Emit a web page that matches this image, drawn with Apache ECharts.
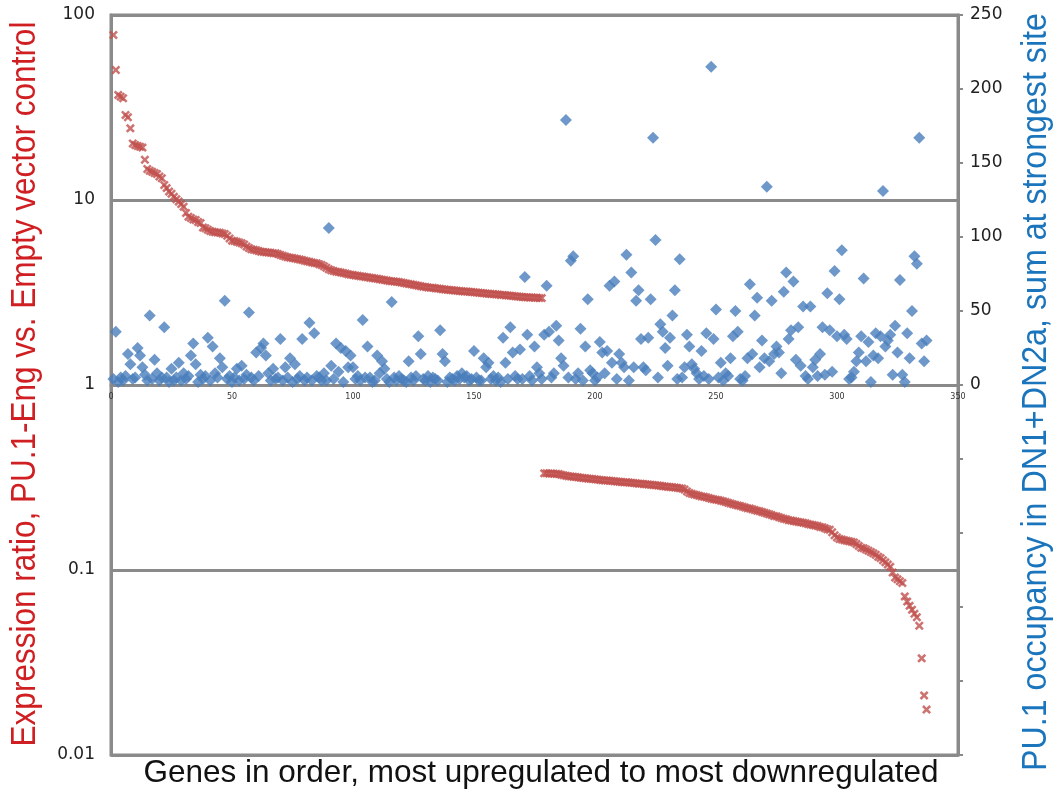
<!DOCTYPE html>
<html>
<head>
<meta charset="utf-8">
<script src="https://cdn.jsdelivr.net/npm/echarts/dist/echarts.min.js"></script>
<style>
html,body{margin:0;padding:0;background:#fff;}
#chart{width:1055px;height:793px;}
</style>
</head>
<body>
<div id="chart"></div>
<script>
// Expression ratio (PU.1-Eng vs. Empty vector), genes 1..178 (upregulated)
const upRatio = [78, 50.4, 37, 36.2, 35.5, 28.8, 28, 24.4, 20.2, 19.8,
 19.6, 19.4, 19.2, 16.5, 14.7, 14.4, 14.2, 14.0, 13.8, 13.4,
 13.1, 12.05, 11.6, 11.1, 10.8, 10.4, 10.1, 9.8, 9.5, 9.2,
 8.5, 8.13, 8.0, 7.85, 7.8, 7.6, 7.5, 7.1, 7.03, 6.9,
 6.8, 6.74, 6.7, 6.68, 6.65, 6.6, 6.55, 6.4, 6.2, 6.03,
 6.0, 5.95, 5.9, 5.83, 5.75, 5.6, 5.5, 5.41, 5.38, 5.35,
 5.3, 5.25, 5.24, 5.22, 5.2, 5.18, 5.16, 5.15, 5.1, 5.05,
 5.0, 4.95, 4.9, 4.88, 4.86, 4.83, 4.8, 4.77, 4.74, 4.7,
 4.66, 4.63, 4.6, 4.57, 4.55, 4.5, 4.45, 4.38, 4.3, 4.22,
 4.17, 4.13, 4.1, 4.08, 4.05, 4.03, 4.0, 3.97, 3.95, 3.93,
 3.91, 3.89, 3.87, 3.86, 3.84, 3.82, 3.8, 3.79, 3.77, 3.75,
 3.73, 3.71, 3.69, 3.67, 3.65, 3.64, 3.63, 3.62, 3.6, 3.58,
 3.56, 3.54, 3.52, 3.5, 3.48, 3.46, 3.44, 3.42, 3.4, 3.39,
 3.37, 3.36, 3.35, 3.33, 3.32, 3.31, 3.29, 3.28, 3.27, 3.26,
 3.25, 3.24, 3.23, 3.22, 3.21, 3.2, 3.2, 3.19, 3.18, 3.17,
 3.16, 3.15, 3.14, 3.13, 3.12, 3.11, 3.1, 3.1, 3.09, 3.08,
 3.07, 3.07, 3.06, 3.05, 3.04, 3.03, 3.02, 3.01, 3.0, 2.99,
 2.98, 2.98, 2.97, 2.97, 2.96, 2.96, 2.95, 2.95];

// Expression ratio, genes 179..337 (downregulated)
const downRatio = [.333,.333,.332,.332,.331,.331,.330,.327,.325,.323,
 .321,.320,.319,.318,.317,.315,.314,.313,.312,.311,
 .310,.309,.308,.307,.306,.305,.305,.304,.303,.302,
 .301,.300,.299,.298,.298,.297,.296,.295,.294,.293,
 .293,.292,.291,.290,.289,.288,.287,.286,.285,.284,
 .283,.282,.281,.280,.279,.278,.277,.276,.272,.266,
 .261,.258,.256,.254,.252,.250,.249,.247,.245,.243,
 .241,.240,.239,.237,.235,.233,.231,.229,.227,.225,
 .223,.222,.220,.218,.216,.215,.213,.211,.209,.208,
 .206,.204,.202,.200,.198,.196,.195,.193,.191,.189,
 .188,.186,.185,.184,.183,.182,.181,.180,.179,.177,
 .176,.175,.174,.173,.171,.170,.168,.166,.165,.160,
 .154,.150,.147,.146,.145,.144,.143,.142,.141,.138,
 .135,.132,.131,.129,.127,.125,.123,.121,.118,.116,
 .113,.110,.107,.104,.097,.091,.089,.087,.085,.072,
 .0675,.064,.061,.058,.0555,.050,.0333,.021,.0176];

// PU.1 occupancy (DN1+DN2a, sum at strongest site), genes 1..337
const occupancy = [4,36,2,5,3,6,21,14,4,5,
 25,20,12,7,3,47,4,17,8,3,
 5,39,5,2,11,3,5,15,3,8,
 4,6,20,28,14,2,7,4,6,32,
 3,26,8,5,18,12,57,4,6,2,
 5,11,3,13,4,7,49,5,3,22,
 6,25,28,20,8,3,11,4,5,31,
 3,12,5,18,2,14,4,6,31,3,
 5,42,3,35,6,5,3,8,3,106,
 13,4,28,9,25,2,23,12,20,12,
 4,6,3,44,5,26,5,2,3,20,
 8,16,11,4,2,56,5,3,6,4,
 3,2,16,5,3,6,33,21,4,3,
 6,2,5,4,3,37,21,16,2,5,
 4,3,6,4,8,5,6,3,4,23,
 5,3,3,18,12,15,4,6,3,5,
 2,32,15,4,39,22,6,4,24,4,
 73,34,6,3,26,12,8,4,34,67,
 36,5,8,40,30,18,13,179,5,84,
 87,4,8,38,3,26,58,10,8,3,
 5,29,22,8,23,67,15,70,4,21,
 15,12,88,3,76,12,57,64,31,12,
 10,32,58,167,98,5,41,36,25,13,
 32,47,64,4,85,5,12,34,26,14,
 11,8,4,23,6,35,4,215,31,51,
 5,15,3,8,6,18,33,50,36,4,
 3,6,18,68,21,47,59,12,30,18,
 134,16,57,21,26,22,8,63,76,31,
 37,70,17,39,13,53,6,4,53,12,
 17,6,21,39,7,62,37,9,77,33,
 58,91,34,31,4,5,9,16,22,33,
 72,16,29,2,20,35,18,33,131,26,
 30,34,7,40,22,71,7,2,35,18,
 50,87,82,167,28,16,30];

const xTicks = [0, 50, 100, 150, 200, 250, 300, 350];
const leftTickLabels = {'0.01':'0.01','0.1':'0.1','1':'1','10':'10','100':'100'};
const rightTickLabels = [0, 50, 100, 150, 200, 250];

const leftTitle = 'Expression ratio, PU.1-Eng vs. Empty vector control';
const rightTitle = 'PU.1 occupancy in DN1+DN2a, sum at strongest site';
const xTitle = 'Genes in order, most upregulated to most downregulated';

const ratio = upRatio.concat(downRatio);
const ratioData = ratio.map((v, i) => [i + 1, v]);
const occData = occupancy.map((v, i) => [i + 1, v]);

const gray = '#8a8a8a';
const xPath = 'path://M0,2 L2,0 L5,3 L8,0 L10,2 L7,5 L10,8 L8,10 L5,7 L2,10 L0,8 L3,5 Z';
const sansFont = '"Liberation Sans",Arial,sans-serif';

const chart = echarts.init(document.getElementById('chart'), null, {renderer: 'canvas'});
chart.setOption({
  animation: false,
  backgroundColor: '#ffffff',
  grid: {left: 111, right: 97, top: 15, bottom: 38, containLabel: false, outerBoundsMode: 'none',
    show: true, borderColor: gray, borderWidth: 3, backgroundColor: 'transparent'},
  xAxis: {
    type: 'value', min: 0, max: 350, interval: 50, position: 'bottom', offset: -370,
    axisLine: {show: true, lineStyle: {color: gray, width: 3}},
    axisTick: {show: false},
    splitLine: {show: false},
    axisLabel: {show: true, fontSize: 8, color: '#333', fontFamily: 'DejaVu Sans', margin: 8,
      formatter: v => xTicks.includes(v) ? String(v) : ''}
  },
  yAxis: [{
    type: 'log', logBase: 10, min: 0.01, max: 100, position: 'left',
    axisLine: {show: true, lineStyle: {color: gray, width: 3}},
    axisTick: {show: false},
    splitLine: {show: true, lineStyle: {color: gray, width: 3}},
    axisLabel: {fontSize: 17, color: '#222', fontFamily: 'DejaVu Sans', margin: 16,
      formatter: v => { const k = String(+v.toPrecision(3)); return leftTickLabels[k] || ''; }}
  }, {
    type: 'value', min: -250, max: 250, interval: 50, position: 'right',
    axisLine: {show: true, lineStyle: {color: gray, width: 3}},
    axisTick: {show: true, length: 5, lineStyle: {color: gray, width: 2}},
    splitLine: {show: false},
    axisLabel: {fontSize: 17, color: '#222', fontFamily: 'DejaVu Sans', margin: 12,
      formatter: v => rightTickLabels.includes(v) ? String(v) : ''}
  }],
  graphic: [{
    type: 'text', x: 541, y: 773,
    style: {text: xTitle, fill: '#111', fontSize: 31.5, fontFamily: sansFont, textAlign: 'center', textVerticalAlign: 'middle'}
  }, {
    type: 'text', x: 25, y: 384, rotation: Math.PI / 2, scaleX: 0.9,
    style: {text: leftTitle, fill: '#cf1f22', fontSize: 35, fontFamily: sansFont, textAlign: 'center', textVerticalAlign: 'middle'}
  }, {
    type: 'text', x: 1036, y: 392, rotation: Math.PI / 2, scaleX: 0.92,
    style: {text: rightTitle, fill: '#1b75bc', fontSize: 35, fontFamily: sansFont, textAlign: 'center', textVerticalAlign: 'middle'}
  }],
  series: [{
    name: 'occupancy', type: 'scatter', yAxisIndex: 1, data: occData,
    symbol: 'diamond', symbolSize: 12,
    itemStyle: {color: '#4a7ebb'}
  }, {
    name: 'ratio', type: 'scatter', yAxisIndex: 0, data: ratioData,
    symbol: xPath, symbolSize: 9,
    itemStyle: {color: '#c0504d'}
  }]
});
</script>
</body>
</html>
